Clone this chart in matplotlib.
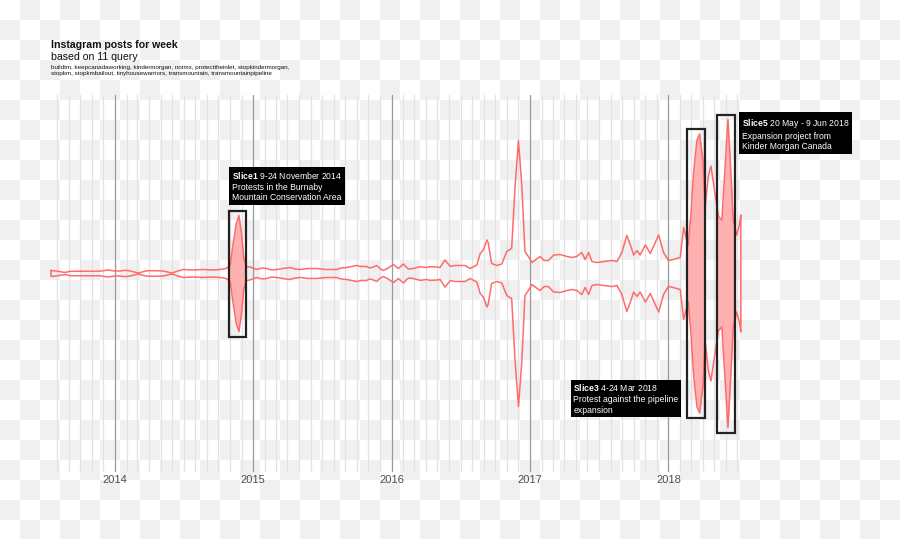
import numpy as np
import pandas as pd
import matplotlib
matplotlib.use("Agg")
import matplotlib.pyplot as plt
import matplotlib.dates as mdates
from matplotlib.patches import Rectangle

plt.rcParams['font.family'] = ['Liberation Sans', 'DejaVu Sans']
plt.rcParams['mathtext.fontset'] = 'custom'
plt.rcParams['mathtext.bf'] = 'Liberation Sans:bold'
plt.rcParams['mathtext.rm'] = 'Liberation Sans'

# weekly instagram posts (stream width)
week = [
    '2013-07-16', '2013-07-29', '2013-08-22', '2013-09-04', '2013-10-01', '2013-10-27',
    '2013-11-22', '2013-12-13', '2014-01-01', '2014-01-14', '2014-01-27', '2014-02-10',
    '2014-03-03', '2014-03-26', '2014-04-17', '2014-05-08', '2014-05-31', '2014-06-16',
    '2014-06-30', '2014-07-26', '2014-08-21', '2014-09-14', '2014-10-05', '2014-10-21',
    '2014-11-01', '2014-11-08', '2014-11-17', '2014-11-24', '2014-12-01', '2014-12-07',
    '2014-12-14', '2014-12-23', '2015-01-10', '2015-01-24', '2015-02-06', '2015-02-17',
    '2015-03-04', '2015-03-20', '2015-04-08', '2015-04-21', '2015-05-05', '2015-05-26',
    '2015-06-18', '2015-07-12', '2015-08-09', '2015-08-21', '2015-09-05', '2015-09-18',
    '2015-10-01', '2015-10-12', '2015-10-27', '2015-11-05', '2015-11-14', '2015-11-23',
    '2015-12-01', '2015-12-10', '2015-12-23', '2016-01-06', '2016-01-19', '2016-02-01',
    '2016-02-14', '2016-02-27', '2016-03-16', '2016-04-03', '2016-04-11', '2016-04-30',
    '2016-05-08', '2016-05-21', '2016-06-04', '2016-06-17', '2016-06-30', '2016-07-13',
    '2016-07-26', '2016-08-13', '2016-08-22', '2016-08-30', '2016-09-09', '2016-09-12',
    '2016-09-21', '2016-10-05', '2016-10-18', '2016-10-31', '2016-11-13', '2016-11-22',
    '2016-12-01', '2016-12-10', '2016-12-18', '2016-12-27', '2017-01-05', '2017-01-16',
    '2017-01-27', '2017-02-07', '2017-02-18', '2017-03-04', '2017-03-21', '2017-04-08',
    '2017-04-21', '2017-05-04', '2017-05-17', '2017-05-26', '2017-06-04', '2017-06-13',
    '2017-06-26', '2017-07-14', '2017-08-05', '2017-08-18', '2017-08-31', '2017-09-13',
    '2017-09-22', '2017-10-01', '2017-10-10', '2017-10-18', '2017-11-01', '2017-11-14',
    '2017-12-06', '2017-12-19', '2018-01-01', '2018-01-13', '2018-02-01', '2018-02-10',
    '2018-02-22', '2018-03-01', '2018-03-08', '2018-03-17', '2018-03-24', '2018-04-02',
    '2018-04-08', '2018-04-16', '2018-04-23', '2018-04-30', '2018-05-13', '2018-05-22',
    '2018-05-29', '2018-06-07', '2018-06-13', '2018-06-21', '2018-06-30', '2018-07-07',
    '2018-07-11',
]
posts = [
    60, 50, 20, 44, 46, 46,
    46, 70, 50, 50, 64, 50,
    10, 54, 56, 50, 10, 50,
    80, 70, 80, 70, 80, 100,
    160, 560, 1000, 1160, 800, 300,
    140, 130, 80, 110, 100, 70,
    80, 100, 120, 90, 80, 100,
    100, 80, 80, 110, 120, 140,
    160, 140, 140, 110, 130, 160,
    100, 60, 110, 180, 100, 190,
    90, 100, 136, 120, 136, 130,
    120, 270, 140, 160, 160, 160,
    100, 170, 400, 470, 670, 620,
    200, 160, 190, 440, 500, 1740,
    2660, 1740, 440, 340, 220, 280,
    340, 260, 260, 370, 380, 340,
    320, 340, 420, 280, 420, 240,
    220, 240, 260, 240, 420, 760,
    580, 370, 460, 370, 570, 400,
    770, 420, 260, 280, 320, 920,
    560, 1160, 2000, 2660, 2790, 2270,
    1340, 1940, 2150, 1800, 1140, 1070,
    1940, 3080, 2270, 1070, 770, 970,
    1170,
]

slice_names = ['Slice1', 'Slice3', 'Slice5']
slice_periods = ['9-24 November 2014', '4-24 Mar 2018', '20 May - 9 Jun 2018']
slice_notes = ['Protests in the Burnaby\nMountain Conservation Area',
               'Protest against the pipeline\nexpansion',
               'Expansion project from\nKinder Morgan Canada']
slice_start = ['2014-10-30', '2018-02-19', '2018-05-09']
slice_end = ['2014-12-14', '2018-04-08', '2018-06-26']

query_tags = ('buildtm, keepcanadaworking, kindermorgan, notmx, protecttheinlet, stopkindermorgan,\n'
              'stopkm, stopkmbailout, tinyhousewarriors, transmountain, transmountainpipeline')

W, H = 900, 539
fig = plt.figure(figsize=(W / 100, H / 100), dpi=100)

# transparent-style checkerboard backdrop
yy, xx = np.mgrid[0:H, 0:W]
board = np.where(((xx // 20) + (yy // 20)) % 2 == 1, 240, 255).astype(np.uint8)
fig.figimage(np.dstack([board] * 3), xo=0, yo=0, origin='upper', zorder=-10)

ax = fig.add_axes([48 / W, 67 / H, 697 / W, 377 / H])
ax.set_zorder(1)
ax.patch.set_visible(False)

dates = pd.to_datetime(week)
half = np.array(posts) / 2.0
xs = np.concatenate([dates.values, dates.values[::-1], dates.values[:1]])
ys = np.concatenate([half, -half[::-1], half[:1]])
ax.plot(xs, ys, color='#ff6b6b', lw=1.1, zorder=3, solid_joinstyle='round')

placements = [
    dict(corner='tl', offset=(1.7, 5.8), ha='left', va='bottom'),
    dict(corner='bl', offset=(-6.0, 2.4), ha='right', va='bottom'),
    dict(corner='tr', offset=(4.8, -1.7), ha='left', va='top'),
]

for name, period, note, s, e, pl in zip(slice_names, slice_periods, slice_notes,
                                        slice_start, slice_end, placements):
    s, e = pd.Timestamp(s), pd.Timestamp(e)
    inside = (dates >= s) & (dates <= e)
    top = half[inside].max() + 50
    x0, x1 = mdates.date2num(s), mdates.date2num(e)
    band = ax.fill_between(dates, -half, half, color='#ffb0b0', lw=0, zorder=2)
    band.set_clip_path(Rectangle((x0, -top), x1 - x0, 2 * top, transform=ax.transData))
    ax.add_patch(Rectangle((x0, -top), x1 - x0, 2 * top, fill=False,
                           ec='#222222', lw=1.6, zorder=4))
    cx = {'l': x0, 'r': x1}[pl['corner'][1]]
    cy = {'t': top, 'b': -top}[pl['corner'][0]]
    ax.annotate(r'$\bf{' + name + '}$ ' + period + '\n' + note, xy=(cx, cy),
                xytext=pl['offset'], textcoords='offset points',
                ha=pl['ha'], va=pl['va'], multialignment='left',
                color='white', fontsize=6.2, linespacing=1.25, zorder=5,
                bbox=dict(boxstyle='square,pad=0.3', fc='black', ec='none'))

ax.set_xlim(pd.Timestamp('2013-07-08'), pd.Timestamp('2018-07-22'))
ax.set_ylim(-1985, 1785)
ax.xaxis.set_major_locator(mdates.YearLocator())
ax.xaxis.set_major_formatter(mdates.DateFormatter('%Y'))
ax.xaxis.set_minor_locator(mdates.MonthLocator())
ax.grid(True, which='minor', axis='x', color='#e2e2e2', lw=0.9)
ax.grid(True, which='major', axis='x', color='#9a9a9a', lw=0.9)
ax.set_axisbelow(True)
ax.tick_params(axis='x', which='both', length=0, pad=2, labelsize=8, labelcolor='#4d4d4d')
ax.set_yticks([])
for sp in ax.spines.values():
    sp.set_visible(False)

fig.text(51 / W, 1 - 45 / H, 'Instagram posts for week', fontsize=7.6,
         fontweight='bold', color='#111111', va='center')
fig.text(51 / W, 1 - 56.7 / H, 'based on 11 query', fontsize=7.6,
         color='#111111', va='center')
fig.text(51 / W, 1 - 65.5 / H, query_tags, fontsize=4.5, color='#111111',
         va='top', linespacing=1.15)

fig.savefig('out.png', dpi=100)
